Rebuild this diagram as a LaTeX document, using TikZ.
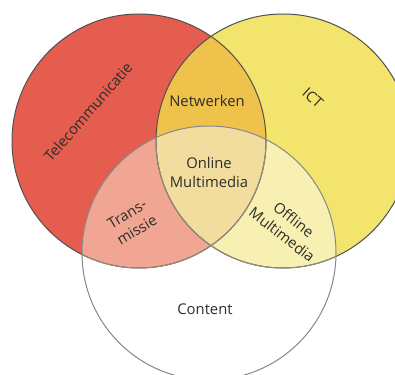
\documentclass[tikz,border=0pt]{standalone}
\usepackage{fontspec}
\setmainfont{Open Sans}
\definecolor{vred}{RGB}{229,93,78}
\definecolor{vyellow}{RGB}{242,228,108}
\definecolor{vorange}{RGB}{239,194,76}
\definecolor{vsalmon}{RGB}{240,166,146}
\definecolor{vpale}{RGB}{248,240,178}
\definecolor{vtan}{RGB}{242,221,158}
\definecolor{vline}{RGB}{80,80,80}
\definecolor{vlinein}{RGB}{150,140,120}
\definecolor{vline2}{RGB}{135,135,135}
\definecolor{vtext}{RGB}{45,45,45}
\tikzset{
  lbl/.style={font=\fontsize{14.8}{19}\selectfont, text=vtext, align=center, inner sep=0pt},
  ring/.style={line width=1pt},
}
\begin{document}
\begin{tikzpicture}[x=1pt,y=-1pt]
\useasboundingbox (0,0) rectangle (395,374);
\clip (0,0) rectangle (395,374);
\coordinate (R) at (139,141);
\coordinate (Y) at (283,141);
\coordinate (C) at (209,253);
\fill[vred] (R) circle[radius=127pt];
\fill[vyellow] (Y) circle[radius=127pt];
\fill[white] (C) circle[radius=127pt];
\begin{scope}
  \clip (R) circle[radius=127pt];
  \fill[vorange] (Y) circle[radius=127pt];
  \fill[vsalmon] (C) circle[radius=127pt];
  \clip (Y) circle[radius=127pt];
  \fill[vtan] (C) circle[radius=127pt];
\end{scope}
\begin{scope}
  \clip (Y) circle[radius=127pt] (R) circle[radius=127pt] (0,0) rectangle (395,374);
  \clip (Y) circle[radius=127pt];
  \fill[vpale] (C) circle[radius=127pt];
\end{scope}
\begin{scope}
  \clip (Y) circle[radius=127pt];
  \clip (R) circle[radius=127pt];
  \fill[vtan] (C) circle[radius=127pt];
\end{scope}
\draw[ring, draw=vline] (R) circle[radius=127pt];
\draw[ring, draw=vline] (Y) circle[radius=127pt];
\begin{scope}
  \clip (C) circle[radius=127pt];
  \draw[ring, draw=vlinein] (R) circle[radius=127pt];
  \draw[ring, draw=vlinein] (Y) circle[radius=127pt];
\end{scope}
\draw[ring, draw=vline2] (C) circle[radius=127pt];
\node[lbl, rotate=49] (tel) at (88,112) {Telecommunicatie};
\node[lbl, rotate=-42] (ict) at (313,98) {ICT};
\node[lbl] (net) at (207,101) {Netwerken};
\node[lbl] (onl) at (209,172) {Online\\Multimedia};
\node[lbl, rotate=31] (tra) at (132,222) {Trans-\\missie};
\node[lbl, rotate=-38] (off) at (288,227) {Offline\\Multimedia};
\node[lbl] (con) at (205,309) {Content};
\end{tikzpicture}
\end{document}
